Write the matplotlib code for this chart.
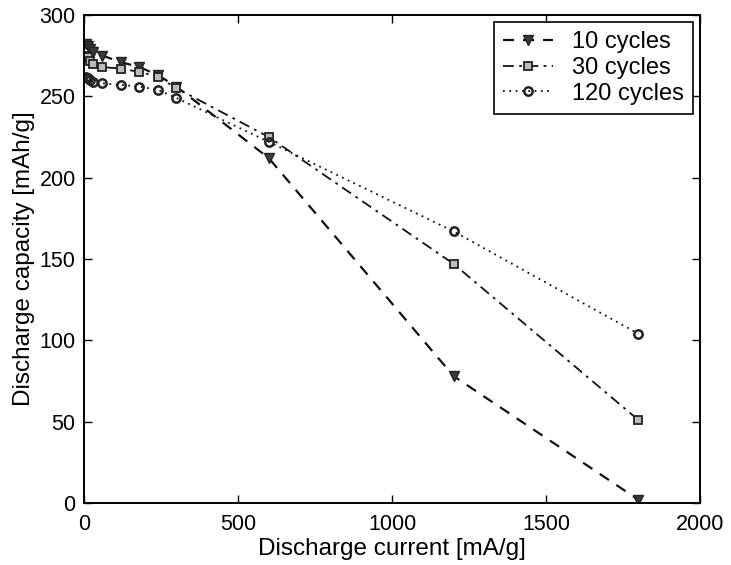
import matplotlib
matplotlib.use("Agg")
import matplotlib.pyplot as plt

plt.rcParams['font.family'] = ['Liberation Sans', 'DejaVu Sans']

current = [6, 12, 18, 30, 60, 120, 180, 240, 300, 600, 1200, 1800]
cap_10 = [282, 281, 279, 277, 275, 271, 268, 263, 256, 212, 78, 2]
cap_30 = [275, 274, 272, 270, 268, 267, 265, 262, 255, 225, 147, 51]
cap_120 = [262, 261, 260, 259, 258, 257, 256, 254, 249, 222, 167, 104]
labels = ['10 cycles', '30 cycles', '120 cycles']

fig = plt.figure(figsize=(7.31, 5.65), dpi=100)
ax = fig.add_axes([84 / 731, 1 - 503 / 565, 616 / 731, 488 / 565])

ax.plot(current, cap_10, ls=(0, (5, 4)), color='#111111', lw=1.6,
        marker='v', ms=7.5, mfc='#3a3a3a', mec='#222222', label=labels[0])
ax.plot(current, cap_30, ls=(0, (6, 3, 1.5, 3)), color='#111111', lw=1.3,
        marker='s', ms=5.5, mfc='#bbbbbb', mec='#222222', mew=1.3, label=labels[1])
ax.plot(current, cap_120, ls=(0, (1, 2.5)), color='#111111', lw=1.3,
        marker='o', ms=6, mfc='none', mec='#222222', mew=1.8, label=labels[2])

ax.set_xlim(0, 2000)
ax.set_ylim(0, 300)
ax.set_xticks([0, 500, 1000, 1500, 2000])
ax.set_yticks([0, 50, 100, 150, 200, 250, 300])
ax.tick_params(direction='in', top=True, right=True, labelsize=15.5, length=6,
               width=1, pad=6)
ax.tick_params(axis='x', pad=8)
for s in ax.spines.values():
    s.set_linewidth(1.4)
ax.set_xlabel('Discharge current [mA/g]', fontsize=17.5, labelpad=2)
ax.set_ylabel('Discharge capacity [mAh/g]', fontsize=17.5, labelpad=3)

leg = ax.legend(loc='upper right', fontsize=17, fancybox=False, framealpha=1,
                edgecolor='black', handlelength=2.1, handletextpad=0.8,
                borderpad=0.4, labelspacing=0.15, borderaxespad=0,
                bbox_to_anchor=(1 - 7 / 616, 1 - 7 / 488))
leg.get_frame().set_linewidth(1.2)

fig.savefig('out.png', dpi=100)
